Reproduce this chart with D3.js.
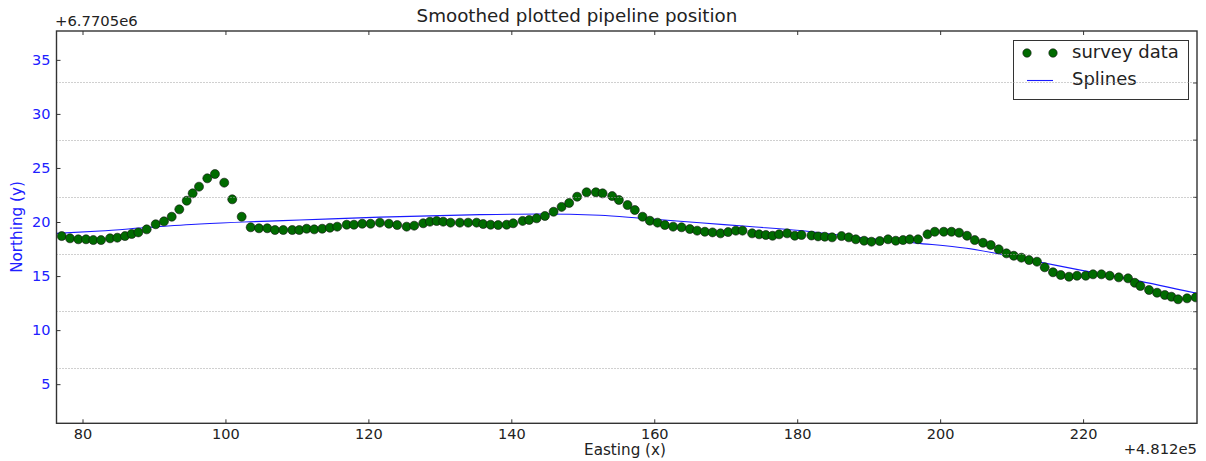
<!DOCTYPE html>
<html><head><meta charset="utf-8">
<script src="https://cdn.jsdelivr.net/npm/d3@7"></script>
<style>body{margin:0;background:#fff} svg{display:block} text{font-family:"DejaVu Sans",sans-serif}</style>
</head><body><svg id="c" width="1206" height="461"></svg>
<script>
const surveyX=[77.09,78.25,79.41,80.49,81.51,82.59,83.85,84.87,85.94,86.88,
87.81,88.98,90.24,91.40,92.48,93.54,94.58,95.41,96.30,97.46,
98.53,99.83,100.95,102.27,103.53,104.69,105.85,106.93,108.09,109.35,
110.33,111.36,112.42,113.54,114.62,115.64,116.96,117.98,119.14,120.31,
121.61,122.87,124.03,125.35,126.41,127.67,128.61,129.55,130.47,131.50,
132.80,133.96,135.14,136.06,137.10,138.16,139.34,140.26,141.58,142.50,
143.54,144.70,145.91,147.03,148.09,149.21,150.53,151.83,152.77,154.11,
155.05,156.26,157.28,158.36,159.38,160.46,161.48,162.64,163.82,164.98,
166.00,167.08,168.15,169.27,170.33,171.41,172.35,173.69,174.67,175.61,
176.55,177.47,178.59,179.66,180.60,182.00,182.92,183.86,184.88,186.20,
187.22,188.20,189.36,190.39,191.55,192.71,193.79,194.81,195.75,196.91,
198.23,199.25,200.51,201.59,202.65,203.76,204.84,206.00,207.08,208.20,
209.28,210.30,211.37,212.44,213.55,214.63,215.79,216.87,218.03,219.15,
220.37,221.39,222.57,223.73,224.99,226.29,227.23,228.02,229.23,230.35,
231.43,232.36,233.29,234.55,235.76];
const surveyY=[18.70,18.49,18.40,18.40,18.33,18.33,18.49,18.55,18.70,18.89,
19.04,19.32,19.79,20.06,20.49,21.17,21.97,22.65,23.27,24.04,
24.44,23.64,22.10,20.49,19.51,19.42,19.42,19.26,19.26,19.26,
19.26,19.38,19.32,19.38,19.47,19.57,19.75,19.75,19.84,19.84,
19.94,19.84,19.72,19.57,19.66,19.88,20.03,20.09,20.03,19.94,
19.94,19.94,19.94,19.81,19.75,19.72,19.75,19.88,20.10,20.19,
20.34,20.56,20.95,21.40,21.76,22.34,22.75,22.75,22.65,22.40,
22.04,21.57,21.11,20.49,20.12,19.94,19.72,19.57,19.51,19.35,
19.20,19.10,19.04,18.95,19.07,19.20,19.20,18.95,18.86,18.80,
18.73,18.86,18.95,18.73,18.80,18.75,18.67,18.64,18.58,18.70,
18.58,18.40,18.27,18.18,18.24,18.40,18.27,18.33,18.40,18.40,
18.86,19.10,19.10,19.10,19.01,18.73,18.33,18.08,17.87,17.47,
17.10,16.88,16.70,16.48,16.33,15.81,15.35,15.10,14.94,15.03,
15.03,15.16,15.16,15.03,14.88,14.79,14.38,14.08,13.71,13.46,
13.25,13.09,12.85,12.94,13.03];
const splineX=[76.36,82.45,89.44,96.44,103.43,110.42,121.61,135.60,143.99,152.39,157.99,166.38,173.37,180.36,187.35,196.69,203.68,213.00,220.00,227.00,235.94];
const splineY=[18.95,19.17,19.51,19.81,20.02,20.18,20.45,20.68,20.74,20.62,20.36,19.93,19.58,19.22,18.66,18.05,17.57,16.42,15.50,14.65,13.40];
const xTicks=[80,100,120,140,160,180,200,220];
const yTicks=[5,10,15,20,25,30,35];
const gridTicks=[1,2,3,4,5,6];
const titleText="Smoothed plotted pipeline position";
const xLabel="Easting (x)", yLabel="Northing (y)";
const xOffsetText="+4.812e5", yOffsetText="+6.7705e6";
const legendLabels=["survey data","Splines"];

const L=56.5,R=1197,T=31,B=423.3;
const svg=d3.select("#c");
const x=d3.scaleLinear().domain([76.36,235.94]).range([L,R]);
const y=d3.scaleLinear().domain([1.38,37.67]).range([B,T]);
const y2=d3.scaleLinear().domain([0.04,6.9]).range([B,T]);

svg.append("defs").append("clipPath").attr("id","clip")
  .append("rect").attr("x",L).attr("y",T).attr("width",R-L).attr("height",B-T);

// axes
const gb=svg.append("g").attr("transform",`translate(0,${B})`)
  .call(d3.axisBottom(x).tickValues(xTicks).tickSizeInner(-4).tickSizeOuter(0).tickPadding(5).tickFormat(d3.format("d")));
gb.selectAll("text").attr("font-size","14.5px").attr("fill","#222").attr("font-family","DejaVu Sans");
const gt=svg.append("g").attr("transform",`translate(0,${T})`)
  .call(d3.axisTop(x).tickValues(xTicks).tickSizeInner(-4).tickSizeOuter(0).tickFormat(""));
const gl=svg.append("g").attr("transform",`translate(${L},0)`)
  .call(d3.axisLeft(y).tickValues(yTicks).tickSizeInner(-4).tickSizeOuter(0).tickPadding(6).tickFormat(d3.format("d")));
gl.selectAll("text").attr("font-size","14.5px").attr("fill","#2020ff").attr("font-family","DejaVu Sans");
const gr=svg.append("g").attr("transform",`translate(${R},0)`)
  .call(d3.axisRight(y2).tickValues(gridTicks).tickSizeInner(-4).tickSizeOuter(0).tickFormat(""));
[gb,gt,gl,gr].forEach(g=>{g.select(".domain").remove();g.selectAll(".tick line").attr("stroke","#333");});

// data
const plot=svg.append("g").attr("clip-path","url(#clip)");
const spline=splineX.map((v,i)=>[v,splineY[i]]);
plot.append("path").datum(spline)
  .attr("d",d3.line().x(d=>x(d[0])).y(d=>y(d[1])).curve(d3.curveMonotoneX))
  .attr("fill","none").attr("stroke","#1a1aff").attr("stroke-width",1.1);
plot.selectAll("circle").data(surveyX.map((v,i)=>[v,surveyY[i]])).join("circle")
  .attr("cx",d=>x(d[0])).attr("cy",d=>y(d[1])).attr("r",4.5)
  .attr("fill","#006b00").attr("stroke","#111").attr("stroke-width",0.6);

// legend
const lg=svg.append("g");
lg.append("rect").attr("x",1013.5).attr("y",40.5).attr("width",175).attr("height",59)
  .attr("fill","#fff").attr("stroke","#333").attr("stroke-width",1);
[1027,1053].forEach(cx=>lg.append("circle").attr("cx",cx).attr("cy",53).attr("r",4.2)
  .attr("fill","#006b00").attr("stroke","#111").attr("stroke-width",0.6));
lg.append("line").attr("x1",1027).attr("x2",1053).attr("y1",80.5).attr("y2",80.5)
  .attr("stroke","#1a1aff").attr("stroke-width",1.1);
lg.append("text").attr("x",1072).attr("y",58).attr("font-size","18px").attr("fill","#222").text(legendLabels[0]);
lg.append("text").attr("x",1072).attr("y",85).attr("font-size","18px").attr("fill","#222").text(legendLabels[1]);

// grid from twin axis (drawn on top)
svg.append("g").selectAll("line").data(gridTicks).join("line")
  .attr("x1",L).attr("x2",R).attr("y1",d=>Math.round(y2(d))+0.5).attr("y2",d=>Math.round(y2(d))+0.5)
  .attr("stroke","#a0a0a0").attr("stroke-width",1).attr("stroke-dasharray","1,2");

// frame
svg.append("rect").attr("x",L).attr("y",T).attr("width",R-L).attr("height",B-T)
  .attr("fill","none").attr("stroke","#333").attr("stroke-width",1.4);

// texts
svg.append("text").attr("x",577).attr("y",21.5).attr("text-anchor","middle").attr("font-size","18.3px").attr("fill","#222").text(titleText);
svg.append("text").attr("x",625).attr("y",455).attr("text-anchor","middle").attr("font-size","15.2px").attr("fill","#222").text(xLabel);
svg.append("text").attr("transform","translate(22,227) rotate(-90)").attr("text-anchor","middle").attr("font-size","15.2px").attr("fill","#2020ff").text(yLabel);
svg.append("text").attr("x",55).attr("y",26).attr("font-size","14.8px").attr("fill","#222").text(yOffsetText);
svg.append("text").attr("x",1197).attr("y",454).attr("text-anchor","end").attr("font-size","14.8px").attr("fill","#222").text(xOffsetText);
</script></body></html>
